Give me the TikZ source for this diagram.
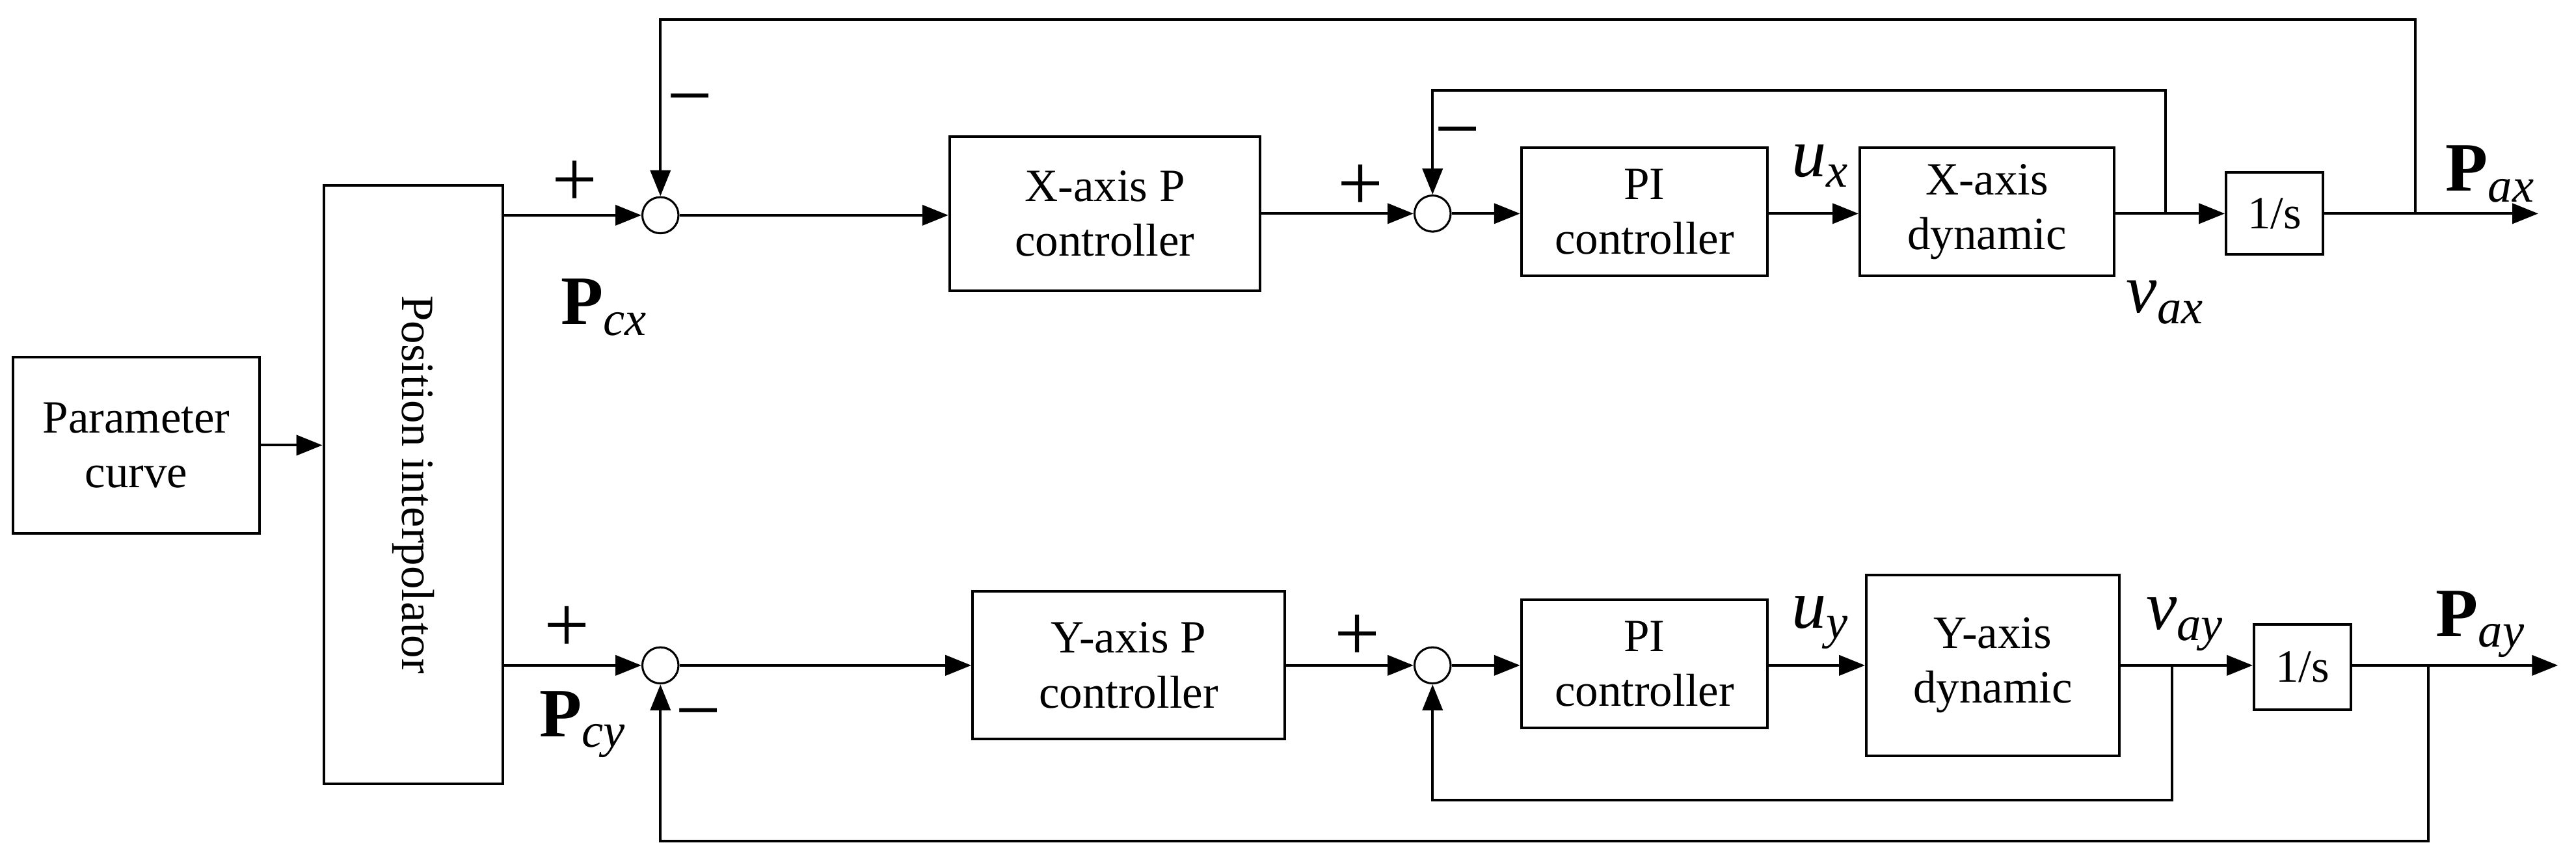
\documentclass[tikz,border=0pt]{standalone}
\usepackage{fontspec}
\setmainfont{Liberation Serif}
\usetikzlibrary{arrows.meta}
\begin{document}
\begin{tikzpicture}[x=0.02cm,y=-0.02cm,
  blk/.style={draw,line width=0.9pt,align=center,font=\fontsize{16}{19}\selectfont,inner sep=0},
  sm/.style={draw,circle,minimum size=0.44cm,inner sep=0,line width=0.7pt},
  ar/.style={-{Triangle[length=9pt,width=7pt]},line width=0.9pt},
  ln/.style={line width=0.9pt},
  lb/.style={font=\fontsize{24}{26}\selectfont},
  pm/.style={font=\fontsize{28}{28}\selectfont}]
\useasboundingbox (0,0) rectangle (1568,522);
\node[blk,minimum width=3cm,minimum height=2.14cm] (pc) at (83,271) {Parameter\\curve};
\node[blk,minimum width=2.18cm,minimum height=7.28cm] (pi) at (251.5,295) {};
\node[rotate=-90,font=\fontsize{16}{19}\selectfont] at (pi.center) {Position interpolator};
\draw[ar] (pc.east) -- (pi.west|-pc.east);
% X row
\node[sm] (s1) at (402,131) {};
\node[blk,minimum width=3.78cm,minimum height=1.88cm] (xp) at (672.5,130) {X-axis P\\controller};
\node[sm] (s2) at (872,130) {};
\node[blk,minimum width=3cm,minimum height=1.56cm] (xpi) at (1001,129) {PI\\controller};
\node[blk,minimum width=3.1cm,minimum height=1.56cm] (xd) at (1209.5,129) {X-axis\\dynamic};
\node[blk,minimum width=1.18cm,minimum height=1cm] (xi) at (1384.5,130) {1/s};
\coordinate (xo) at (1545,130);
\coordinate (xa) at (1318,130);
\coordinate (xb) at (1470,130);
\draw[ar] (pi.east|-s1) -- (s1);
\draw[ar] (s1) -- (xp.west|-s1);
\draw[ar] (xp.east|-s2) -- (s2);
\draw[ar] (s2) -- (xpi.west|-s2);
\draw[ar] (xpi.east|-s2) -- (xd.west|-s2);
\draw[ar] (xd.east|-s2) -- (xi.west|-s2);
\draw[ar] (xi.east|-s2) -- (xo);
\draw[ar] (xa) -- (1318,55) -| (s2.north);
\draw[ar] (xb) -- (1470,12) -| (s1.north);
\node[pm] at (350,112) {+};
\node[pm] at (420,66) {−};
\node[pm] at (828,114) {+};
\node[pm] at (887,86) {−};
\node[lb] at (368,187) {\textbf{P}\textsubscript{\textit{cx}}};
\node[lb] at (1108,101) {\textit{u}\textsubscript{\textit{x}}};
\node[lb] at (1318,184) {\textit{v}\textsubscript{\textit{ax}}};
\node[lb] at (1516,106) {\textbf{P}\textsubscript{\textit{ax}}};
% Y row
\node[sm] (t1) at (402,405) {};
\node[blk,minimum width=3.8cm,minimum height=1.8cm] (yp) at (687,405) {Y-axis P\\controller};
\node[sm] (t2) at (872,405) {};
\node[blk,minimum width=3cm,minimum height=1.56cm] (ypi) at (1001,404) {PI\\controller};
\node[blk,minimum width=3.08cm,minimum height=2.2cm] (yd) at (1213,405) {Y-axis\\dynamic};
\node[blk,minimum width=1.18cm,minimum height=1.04cm] (yi) at (1401.5,406) {1/s};
\coordinate (yo) at (1557,405);
\coordinate (ya) at (1322,405);
\coordinate (yb) at (1478,405);
\draw[ar] (pi.east|-t1) -- (t1);
\draw[ar] (t1) -- (yp.west|-t1);
\draw[ar] (yp.east|-t2) -- (t2);
\draw[ar] (t2) -- (ypi.west|-t2);
\draw[ar] (ypi.east|-t2) -- (yd.west|-t2);
\draw[ar] (yd.east|-t2) -- (yi.west|-t2);
\draw[ar] (yi.east|-t2) -- (yo);
\draw[ar] (ya) -- (1322,487) -| (t2.south);
\draw[ar] (yb) -- (1478,512) -| (t1.south);
\node[pm] at (345,383) {+};
\node[pm] at (425,440) {−};
\node[pm] at (826,388) {+};
\node[lb] at (355,441) {\textbf{P}\textsubscript{\textit{cy}}};
\node[lb] at (1108,379) {\textit{u}\textsubscript{\textit{y}}};
\node[lb] at (1330,380) {\textit{v}\textsubscript{\textit{ay}}};
\node[lb] at (1510,380) {\textbf{P}\textsubscript{\textit{ay}}};
\end{tikzpicture}
\end{document}
